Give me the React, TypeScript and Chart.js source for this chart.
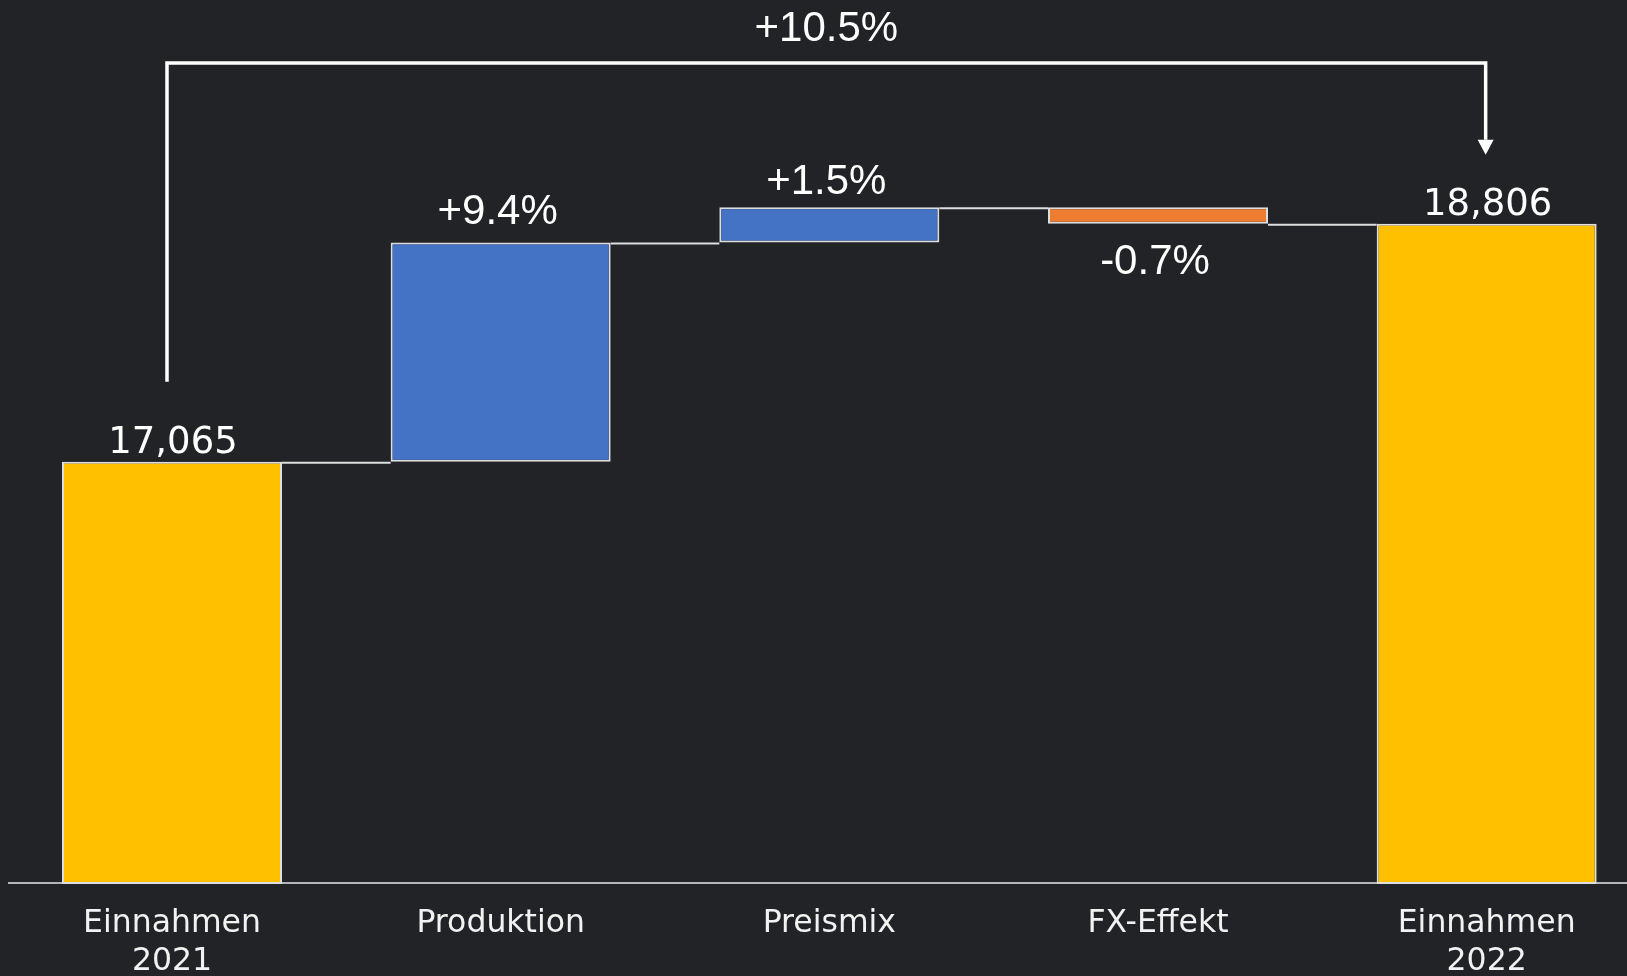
import React, { useEffect, useRef } from "react";
import { Chart, registerables } from "chart.js";

Chart.register(...registerables);

// ---- data ----
const categories: (string | string[])[] = [
  ["Einnahmen", "2021"],
  "Produktion",
  "Preismix",
  "FX-Effekt",
  ["Einnahmen", "2022"],
];
const startTotal = 17065;
const deltaValues = [1604, 257, -120];
const endTotal = 18806;
const deltaPercent = [9.4, 1.5, -0.7];
const totalPercent = 10.5;

// ---- scale / style settings ----
const Y_MIN = 13980;
const Y_MAX = 19980;
const X_MIN = -0.499;
const X_MAX = 4.427;

const CANVAS_W = 1627;
const CANVAS_H = 976;

const BG = "#222327";
const COLOR_TOTAL = "#FFC000";
const COLOR_UP = "#4472C4";
const COLOR_DOWN = "#ED7D31";
const EDGE = "#dedede";
const AXIS = "#b4b4b4";
const pctGap = [18, 13, 50];

export default function App() {
  const ref = useRef<HTMLCanvasElement>(null);

  useEffect(() => {
    document.documentElement.style.background = BG;
    document.body.style.background = BG;

    const levels: number[] = [startTotal];
    deltaValues.forEach((d) => levels.push(levels[levels.length - 1] + d));
    const ranges: [number, number][] = [[Y_MIN, startTotal]];
    deltaValues.forEach((d, i) => {
      const a = levels[i];
      const b = levels[i + 1];
      ranges.push([Math.min(a, b), Math.max(a, b)]);
    });
    ranges.push([Y_MIN, endTotal]);
    const colors = [
      COLOR_TOTAL,
      ...deltaValues.map((d) => (d >= 0 ? COLOR_UP : COLOR_DOWN)),
      COLOR_TOTAL,
    ];
    const connectorLevels = [levels[0], levels[1], levels[2], endTotal];

    const axisLine = {
      id: "axisLine",
      beforeDatasetsDraw(chart: any) {
        const ctx = chart.ctx as CanvasRenderingContext2D;
        const yb = chart.chartArea.bottom;
        ctx.save();
        ctx.strokeStyle = AXIS;
        ctx.lineWidth = 2;
        ctx.beginPath();
        ctx.moveTo(chart.chartArea.left, yb - 1);
        ctx.lineTo(chart.width, yb - 1);
        ctx.stroke();
        ctx.restore();
      },
    };

    const annot = {
      id: "annot",
      afterDatasetsDraw(chart: any) {
        const ctx = chart.ctx as CanvasRenderingContext2D;
        const bars = chart.getDatasetMeta(0).data as any[];
        const y = chart.scales.y;
        const area = chart.chartArea;
        ctx.save();

        // connectors
        ctx.strokeStyle = EDGE;
        ctx.lineWidth = 2;
        connectorLevels.forEach((lv, i) => {
          const a = bars[i];
          const b = bars[i + 1];
          const py = y.getPixelForValue(lv) + 1;
          ctx.beginPath();
          ctx.moveTo(a.x + a.width / 2, py);
          ctx.lineTo(b.x - b.width / 2, py);
          ctx.stroke();
        });

        // totals labels
        ctx.fillStyle = "#ffffff";
        ctx.textAlign = "center";
        ctx.textBaseline = "alphabetic";
        ctx.font = '37px "DejaVu Sans"';
        const totals: [number, number][] = [
          [0, startTotal],
          [4, endTotal],
        ];
        totals.forEach(([i, v]) => {
          ctx.fillText(
            v.toLocaleString("en-US"),
            bars[i].x + 1,
            y.getPixelForValue(v) - 9
          );
        });

        // percent labels
        ctx.font = '42px "Liberation Sans"';
        deltaPercent.forEach((p, k) => {
          const bar = bars[k + 1];
          const [lo, hi] = ranges[k + 1];
          const txt = (p >= 0 ? "+" : "") + p.toFixed(1) + "%";
          const yy =
            p >= 0
              ? y.getPixelForValue(hi) - pctGap[k]
              : y.getPixelForValue(lo) + pctGap[k];
          ctx.fillText(txt, bar.x - 3, yy);
        });

        // bracket with arrow
        const leftX = bars[0].x - 5;
        const rightX = bars[4].x - 1;
        const topY = area.top;
        const leftBottom = y.getPixelForValue(startTotal) - 80;
        const tip = y.getPixelForValue(endTotal) - 69;
        const base = tip - 15;
        ctx.strokeStyle = "#ffffff";
        ctx.lineWidth = 3.5;
        ctx.lineJoin = "miter";
        ctx.beginPath();
        ctx.moveTo(leftX, leftBottom);
        ctx.lineTo(leftX, topY);
        ctx.lineTo(rightX, topY);
        ctx.lineTo(rightX, base);
        ctx.stroke();
        ctx.fillStyle = "#ffffff";
        ctx.beginPath();
        ctx.moveTo(rightX - 8, base);
        ctx.lineTo(rightX + 8, base);
        ctx.lineTo(rightX, tip);
        ctx.closePath();
        ctx.fill();

        ctx.fillText(
          "+" + totalPercent.toFixed(1) + "%",
          (leftX + rightX) / 2,
          topY - 22
        );

        ctx.restore();
      },
    };

    const chart = new Chart(ref.current as HTMLCanvasElement, {
      type: "bar",
      data: {
        datasets: [
          {
            data: ranges.map((r, i) => ({ x: i, y: r })) as any,
            backgroundColor: colors,
            borderColor: EDGE,
            borderWidth: 2,
            borderSkipped: false,
            categoryPercentage: 1,
            barPercentage: 0.6694,
          },
        ],
      },
      options: {
        animation: false,
        responsive: false,
        layout: { padding: { top: 63, left: 8, right: 0, bottom: 0 } },
        plugins: {
          legend: { display: false },
          tooltip: { enabled: false },
        },
        scales: {
          x: {
            type: "linear",
            offset: false,
            min: X_MIN,
            max: X_MAX,
            afterBuildTicks: (s: any) => {
              s.ticks = categories.map((_, i) => ({ value: i }));
            },
            afterFit: (s: any) => {
              s.height = 92;
            },
            grid: { display: false, drawTicks: false, offset: false },
            border: { display: false },
            ticks: {
              color: "#f2f2f2",
              font: { family: "DejaVu Sans", size: 31.5, lineHeight: 1.206 },
              padding: 21,
              maxRotation: 0,
              autoSkip: false,
              callback: (v: any) => categories[Math.round(Number(v))] as any,
            },
          },
          y: {
            display: false,
            min: Y_MIN,
            max: Y_MAX,
          },
        },
      },
      plugins: [axisLine, annot],
    });

    return () => chart.destroy();
  }, []);

  return (
    <div
      style={{
        position: "fixed",
        left: 0,
        top: 0,
        width: CANVAS_W,
        height: CANVAS_H,
        background: BG,
      }}
    >
      <canvas
        ref={ref}
        width={CANVAS_W}
        height={CANVAS_H}
        style={{ display: "block", width: CANVAS_W, height: CANVAS_H }}
      />
    </div>
  );
}
